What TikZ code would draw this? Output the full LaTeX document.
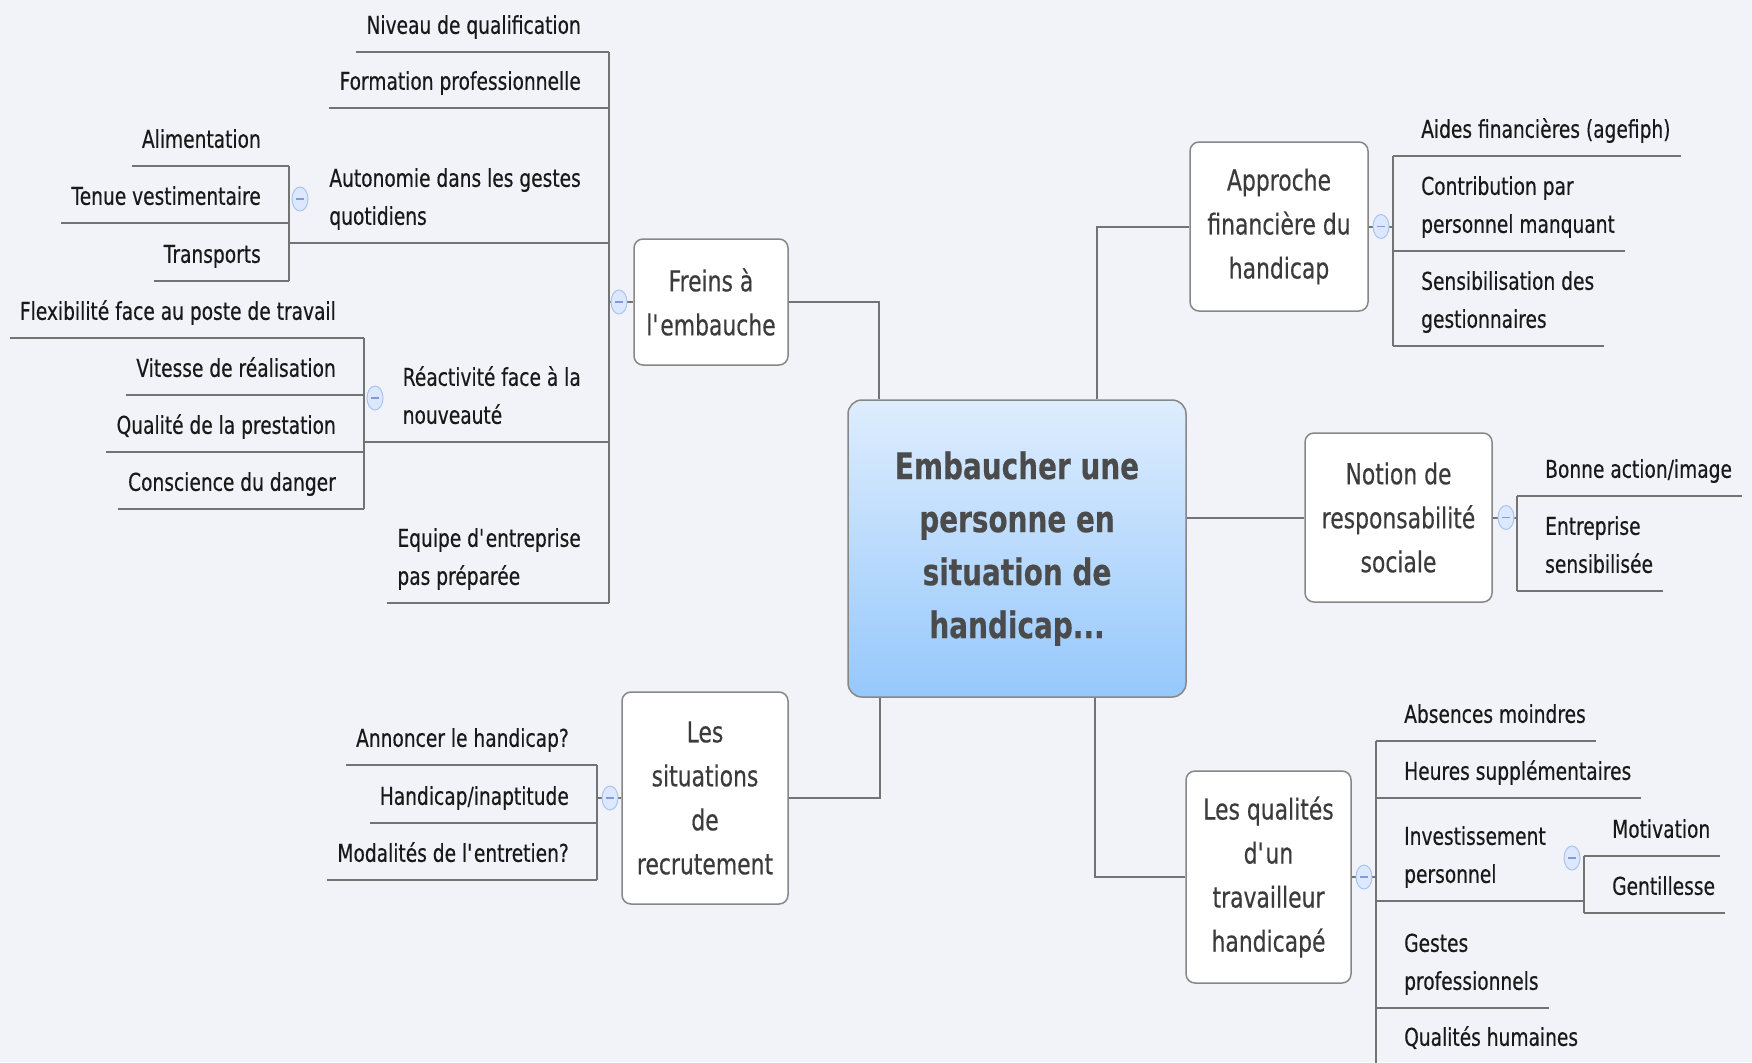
\documentclass[tikz,border=0pt]{standalone}
\usepackage{fontspec}
\setmainfont{DejaVu Sans}[FakeStretch=0.76,FakeBold=0.4]
\usepackage{tikz}
\usetikzlibrary{shapes.geometric}
\definecolor{bgcol}{RGB}{241,243,248}
\definecolor{linecol}{RGB}{115,115,115}
\definecolor{boxline}{RGB}{135,135,135}
\definecolor{textcol}{RGB}{25,25,25}
\definecolor{maincol}{RGB}{75,75,75}
\definecolor{maintop}{RGB}{222,237,254}
\definecolor{mainbot}{RGB}{150,200,252}
\definecolor{foldfill}{RGB}{220,232,255}
\definecolor{folddraw}{RGB}{170,196,240}
\definecolor{foldbar}{RGB}{130,155,210}
\newcommand\leaffont{\fontsize{24.5}{38}\selectfont}
\newcommand\topicfont{\fontsize{28.8}{44}\selectfont}
\newcommand\centrefont{\fontsize{36.7}{53}\selectfont\bfseries}
\newcommand\twoline[2]{\begin{tabular}[b]{@{}l@{}}#1\\#2\end{tabular}}
\newcommand\apos{{\XeTeXglyph\XeTeXglyphindex "quotesingle"\relax}}

\begin{document}
\begin{tikzpicture}[x=1pt,y=-1pt]
		\tikzstyle{branch}=[draw=linecol,line width=2pt];
		\tikzstyle{leaf}=[font=\leaffont,text=textcol,inner xsep=10pt,inner ysep=0pt,text depth=18pt];
		\tikzstyle{lleaf}=[leaf,anchor=south east];
		\tikzstyle{rleaf}=[leaf,anchor=south west];
		\tikzstyle{topicbox}=[rectangle,draw=boxline,line width=1.5pt,fill=white,rounded corners=9pt,
			font=\topicfont,text=textcol!85!white,align=center,inner sep=0pt];
		\tikzstyle{mainbox}=[rectangle,draw=boxline,line width=1.5pt,top color=maintop,bottom color=mainbot,
			rounded corners=14pt,font=\centrefont,text=maincol,align=center,minimum width=338pt,minimum height=297pt];
		\tikzstyle{foldmark}=[ellipse,draw=folddraw,line width=1pt,fill=foldfill,minimum width=16pt,minimum height=24pt,inner sep=0pt,
			path picture={\draw[foldbar,line width=1.5pt]([xshift=-4pt]path picture bounding box.center)--([xshift=4pt]path picture bounding box.center);}];
		\path[use as bounding box,fill=bgcol](0,0)rectangle(1752,1062);

		\node[mainbox](main)at(1017,548.5){Embaucher une\\personne en\\situation de\\handicap...};
		\node[topicbox,minimum width=154pt,minimum height=126pt](freins)at(711,302){Freins à\\l\apos embauche};
		\node[topicbox,minimum width=166pt,minimum height=212pt](situations)at(705,798){Les\\situations\\de\\recrutement};
		\node[topicbox,minimum width=178pt,minimum height=169pt](approche)at(1279,226.5){Approche\\financière du\\handicap};
		\node[topicbox,minimum width=187pt,minimum height=169pt](notion)at(1398.5,517.5){Notion de\\responsabilité\\sociale};
		\node[topicbox,minimum width=165pt,minimum height=212pt](qualites)at(1268.5,877){Les qualités\\d\apos un\\travailleur\\handicapé};

		\coordinate(fspine)at(609,0);
		\coordinate(aspine)at(289,0);
		\coordinate(rspine)at(364,0);
		\coordinate(sspine)at(597,0);
		\coordinate(pspine)at(1393,0);
		\coordinate(nspine)at(1517,0);
		\coordinate(qspine)at(1376,0);
		\coordinate(ispine)at(1584,0);

		\node[lleaf](niveau)at(591,52){Niveau de qualification};
		\node[lleaf](formation)at(591,108){Formation professionnelle};
		\node[lleaf](autonomie)at(591,243){\twoline{Autonomie dans les gestes}{quotidiens}};
		\node[lleaf](reactivite)at(591,442){\twoline{Réactivité face à la}{nouveauté}};
		\node[lleaf](equipe)at(591,603){\twoline{Equipe d\apos entreprise}{pas préparée}};

		\node[lleaf](alimentation)at(271,166){Alimentation};
		\node[lleaf](tenue)at(271,223){Tenue vestimentaire};
		\node[lleaf](transports)at(271,281){Transports};

		\node[lleaf](flexibilite)at(346,338){Flexibilité face au poste de travail};
		\node[lleaf](vitesse)at(346,395){Vitesse de réalisation};
		\node[lleaf](qualite)at(346,452){Qualité de la prestation};
		\node[lleaf](conscience)at(346,509){Conscience du danger};

		\node[lleaf](annoncer)at(579,765){Annoncer le handicap?};
		\node[lleaf](inaptitude)at(579,823){Handicap/inaptitude};
		\node[lleaf](modalites)at(579,880){Modalités de l\apos entretien?};

		\node[rleaf](aides)at(1411,156){Aides financières (agefiph)};
		\node[rleaf](contribution)at(1411,251){\twoline{Contribution par}{personnel manquant}};
		\node[rleaf](sensibilisation)at(1411,346){\twoline{Sensibilisation des}{gestionnaires}};

		\node[rleaf](bonne)at(1535,496){Bonne action/image};
		\node[rleaf](entreprise)at(1535,591){\twoline{Entreprise}{sensibilisée}};

		\node[rleaf](absences)at(1394,741){Absences moindres};
		\node[rleaf](heures)at(1394,798){Heures supplémentaires};
		\node[rleaf](investissement)at(1394,901){\twoline{Investissement}{personnel}};
		\node[rleaf](gestes)at(1394,1008){\twoline{Gestes}{professionnels}};
		\node[rleaf](humaines)at(1394,1064){Qualités humaines};

		\node[rleaf](motivation)at(1602,856){Motivation};
		\node[rleaf](gentillesse)at(1602,913){Gentillesse};

		\draw[branch](freins.east)-|([xshift=32pt]main.north west);
		\draw[branch](situations.east)-|([xshift=33pt]main.south west);
		\draw[branch](approche.west)-|([xshift=-90pt]main.north east);
		\draw[branch](qualites.west)-|([xshift=-92pt]main.south east);
		\draw[branch](notion.west)--(notion.west-|main.east);

		\draw[branch](freins.west)--(freins.west-|fspine);
		\draw[branch](niveau.south-|fspine)--(equipe.south-|fspine);
		\draw[branch](niveau.south west)--(niveau.south west-|fspine);
		\draw[branch](formation.south west)--(formation.south west-|fspine);
		\draw[branch](autonomie.south east-|fspine)--(autonomie.south east-|aspine);
		\draw[branch](reactivite.south east-|fspine)--(reactivite.south east-|rspine);
		\draw[branch](equipe.south west)--(equipe.south west-|fspine);

		\draw[branch](alimentation.south-|aspine)--(transports.south-|aspine);
		\draw[branch](alimentation.south west)--(alimentation.south west-|aspine);
		\draw[branch](tenue.south west)--(tenue.south west-|aspine);
		\draw[branch](transports.south west)--(transports.south west-|aspine);

		\draw[branch](flexibilite.south-|rspine)--(conscience.south-|rspine);
		\draw[branch](flexibilite.south west)--(flexibilite.south west-|rspine);
		\draw[branch](vitesse.south west)--(vitesse.south west-|rspine);
		\draw[branch](qualite.south west)--(qualite.south west-|rspine);
		\draw[branch](conscience.south west)--(conscience.south west-|rspine);

		\draw[branch](situations.west)--(situations.west-|sspine);
		\draw[branch](annoncer.south-|sspine)--(modalites.south-|sspine);
		\draw[branch](annoncer.south west)--(annoncer.south west-|sspine);
		\draw[branch](inaptitude.south west)--(inaptitude.south west-|sspine);
		\draw[branch](modalites.south west)--(modalites.south west-|sspine);

		\draw[branch](approche.east)--(approche.east-|pspine);
		\draw[branch](aides.south-|pspine)--(sensibilisation.south-|pspine);
		\draw[branch](aides.south east)--(aides.south east-|pspine);
		\draw[branch](contribution.south east)--(contribution.south east-|pspine);
		\draw[branch](sensibilisation.south east)--(sensibilisation.south east-|pspine);

		\draw[branch](notion.east)--(notion.east-|nspine);
		\draw[branch](bonne.south-|nspine)--(entreprise.south-|nspine);
		\draw[branch](bonne.south east)--(bonne.south east-|nspine);
		\draw[branch](entreprise.south east)--(entreprise.south east-|nspine);

		\draw[branch](qualites.east)--(qualites.east-|qspine);
		\draw[branch](absences.south-|qspine)--(humaines.south-|qspine);
		\draw[branch](absences.south east)--(absences.south east-|qspine);
		\draw[branch](heures.south east)--(heures.south east-|qspine);
		\draw[branch](investissement.south west-|qspine)--(investissement.south west-|ispine);
		\draw[branch](gestes.south east)--(gestes.south east-|qspine);
		\draw[branch](humaines.south east)--(humaines.south east-|qspine);

		\draw[branch](motivation.south-|ispine)--(gentillesse.south-|ispine);
		\draw[branch](motivation.south east)--(motivation.south east-|ispine);
		\draw[branch](gentillesse.south east)--(gentillesse.south east-|ispine);

		\node[foldmark](ffold)at(619,302){};
		\node[foldmark](afold)at(300,199){};
		\node[foldmark](rfold)at(375,398){};
		\node[foldmark](sfold)at(610,798){};
		\node[foldmark](pfold)at(1381,226.5){};
		\node[foldmark](nfold)at(1506,517.5){};
		\node[foldmark](qfold)at(1364,877){};
		\node[foldmark](ifold)at(1572,858){};
	\end{tikzpicture}
\end{document}
